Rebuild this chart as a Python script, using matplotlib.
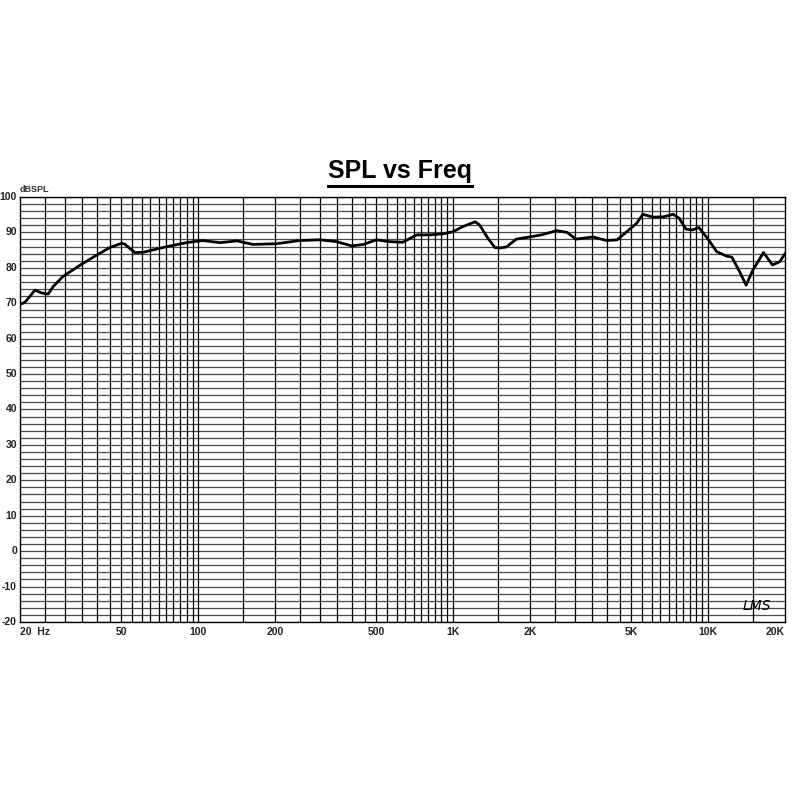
"""SPL vs frequency response chart (LMS style)."""

import matplotlib

matplotlib.use("Agg")
import matplotlib.pyplot as plt
from matplotlib.lines import Line2D
import numpy as np

FREQ_HZ = [
    20, 21, 22.9, 24.3, 25.8, 27, 29.4, 34.5, 40, 45, 50, 51.5, 56.4, 61,
    75.5, 90, 104, 122, 142, 164, 203, 250, 300, 348, 400, 445, 500, 560,
    634, 720, 808, 913, 1000, 1090, 1220, 1270, 1370, 1460, 1530, 1620,
    1770, 2030, 2220, 2550, 2800, 3030, 3540, 4000, 4400, 4800, 5250, 5550,
    6100, 6700, 7300, 7700, 8200, 8700, 9200, 10000, 10800, 11800, 12400,
    13300, 14100, 15000, 16500, 17900, 19100, 20000,
]
SPL_DB = [
    69.6, 70.4, 73.7, 72.9, 72.6, 74.7, 77.5, 80.8, 83.6, 85.7, 86.9, 86.7,
    84.3, 84.4, 86.0, 87.1, 87.7, 87.1, 87.6, 86.6, 86.8, 87.7, 87.9, 87.4,
    86.2, 86.6, 87.9, 87.4, 87.2, 89.3, 89.3, 89.6, 90.2, 91.6, 93.0, 92.1,
    88.3, 85.7, 85.6, 85.9, 88.1, 88.8, 89.3, 90.5, 90.0, 88.1, 88.7, 87.7,
    87.9, 90.2, 92.6, 95.1, 94.3, 94.4, 95.1, 94.0, 90.9, 90.7, 91.4, 88.1,
    84.6, 83.3, 83.0, 78.9, 75.1, 79.4, 84.3, 80.8, 81.7, 83.9,
]

X_TICKS = [20, 50, 100, 200, 500, 1000, 2000, 5000, 10000, 20000]
X_TICK_LABELS = ["20  Hz", "50", "100", "200", "500", "1K", "2K", "5K", "10K", "20K"]
Y_TICKS = list(range(-20, 101, 10))

FONT = "Liberation Sans"

fig = plt.figure(figsize=(8, 8), dpi=100)
ax = fig.add_axes([0.025, 0.2225, 0.956, 0.5313])
ax.set_xscale("log")
ax.set_xlim(20, 20000)
ax.set_ylim(-20, 100)

# grid: every 2 dB horizontally, every half step of each decade vertically
for level in range(-20, 101, 2):
    ax.axhline(level, color="#4a4a4a", linewidth=0.9, zorder=1)
for decade in (10, 100, 1000, 10000):
    for m in np.arange(1.0, 10.0, 0.5):
        f = decade * m
        if 20 < f < 20000:
            ax.axvline(f, color="black", linewidth=0.9, zorder=1)

ax.plot(FREQ_HZ, SPL_DB, color="black", linewidth=2.0, zorder=3)

ax.set_xticks([])
ax.set_yticks([])
ax.minorticks_off()
for spine in ax.spines.values():
    spine.set_linewidth(1.0)

label_kw = dict(fontsize=7.5, fontweight="bold", family=FONT, color="#222222")
xax = ax.get_xaxis_transform()
yax = ax.get_yaxis_transform()
for f, lab in zip(X_TICKS, X_TICK_LABELS):
    ha = "left" if f == 20 else ("right" if f == 20000 else "center")
    ax.text(f, -0.012, lab, ha=ha, va="top", transform=xax, **label_kw)
for v in Y_TICKS:
    ax.text(-0.004, v, str(v), ha="right", va="center", transform=yax, **label_kw)
ax.text(-0.001, 1.008, "dBSPL", ha="left", va="bottom", fontsize=6.5,
        fontweight="bold", family=FONT, color="#333333", transform=ax.transAxes)

ax.text(15500, -15.5, "LMS", ha="center", va="center", fontsize=10,
        style="italic", family="DejaVu Sans", color="black")

title = fig.text(0.5, 0.7775, "SPL vs Freq", ha="center", va="baseline",
                 fontsize=18, fontweight="bold", family=FONT)
fig.canvas.draw()
bb = title.get_window_extent().transformed(fig.transFigure.inverted())
fig.add_artist(Line2D([bb.x0, bb.x1], [0.7675, 0.7675], color="black",
                      linewidth=2.2, transform=fig.transFigure))

fig.savefig("out.png", dpi=100, facecolor="white")
